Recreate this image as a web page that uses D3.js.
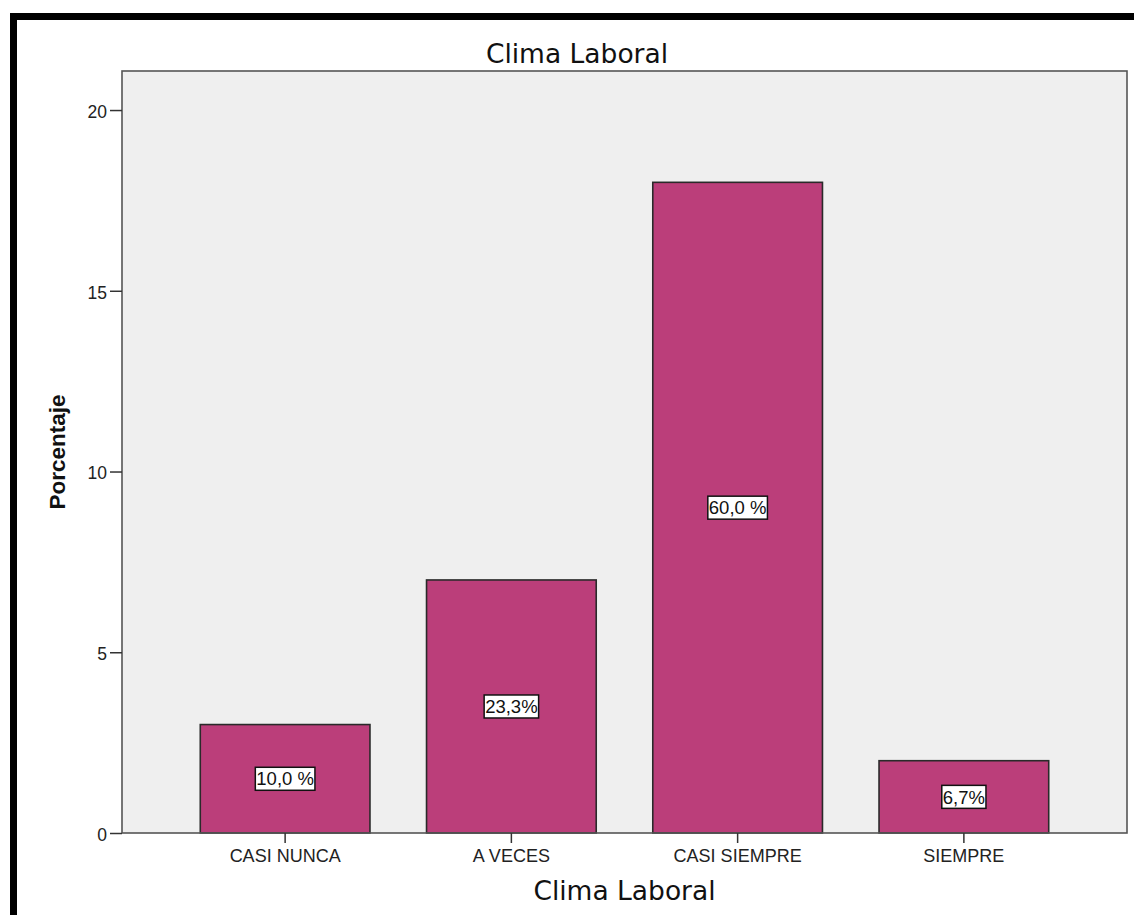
<!DOCTYPE html>
<html>
<head>
<meta charset="utf-8">
<script src="https://cdn.jsdelivr.net/npm/d3@7"></script>
<style>
  html, body { margin: 0; padding: 0; background: #fff; }
  svg { display: block; }
</style>
</head>
<body>
<svg id="chart" width="1134" height="915"></svg>
<script>
// Clima Laboral — frequency per category with percentage labels
const categories = ["CASI NUNCA", "A VECES", "CASI SIEMPRE", "SIEMPRE"];
const counts = [3, 7, 18, 2];
const percentLabels = ["10,0 %", "23,3%", "60,0 %", "6,7%"];
const yTicks = [0, 5, 10, 15, 20];
const chartTitle = "Clima Laboral";
const xTitle = "Clima Laboral";
const yTitle = "Porcentaje";

const svg = d3.select("#chart");
const W = 1134, H = 915;
const plot = { left: 122, right: 1127, top: 71, bottom: 833 };

// outer black frame (top and left edges)
svg.append("rect").attr("x", 10).attr("y", 13).attr("width", W - 10).attr("height", 7).attr("fill", "#000");
svg.append("rect").attr("x", 10).attr("y", 13).attr("width", 7).attr("height", H - 13).attr("fill", "#000");

const x = d3.scaleBand()
  .domain(categories)
  .range([plot.left + 50, plot.right - 50])
  .paddingInner(0.25)
  .paddingOuter(0.125);

const y = d3.scaleLinear()
  .domain([0, 21.08])
  .range([plot.bottom, plot.top]);

// plot background
svg.append("rect")
  .attr("x", plot.left).attr("y", plot.top)
  .attr("width", plot.right - plot.left).attr("height", plot.bottom - plot.top)
  .attr("fill", "#efefef");

// bars
svg.append("g").selectAll("rect")
  .data(categories)
  .join("rect")
  .attr("x", d => x(d))
  .attr("y", (d, i) => y(counts[i]))
  .attr("width", x.bandwidth())
  .attr("height", (d, i) => y(0) - y(counts[i]))
  .attr("fill", "#bb3e7a")
  .attr("stroke", "#2a2a2a")
  .attr("stroke-width", 1.6);

// plot frame
svg.append("rect")
  .attr("x", plot.left).attr("y", plot.top)
  .attr("width", plot.right - plot.left).attr("height", plot.bottom - plot.top)
  .attr("fill", "none")
  .attr("stroke", "#555")
  .attr("stroke-width", 1.6);

// y axis
const yAxis = svg.append("g")
  .attr("transform", `translate(${plot.left},0)`)
  .call(d3.axisLeft(y).tickValues(yTicks).tickSize(12).tickPadding(3).tickFormat(d3.format("d")));
yAxis.select(".domain").remove();
yAxis.selectAll("line").attr("stroke", "#333").attr("stroke-width", 1.5);
yAxis.selectAll("text")
  .attr("font-family", "'Liberation Sans', Arial, sans-serif")
  .attr("font-size", 17.5)
  .attr("fill", "#222")
  .attr("dy", "0.42em");

// x axis
const xAxis = svg.append("g")
  .attr("transform", `translate(0,${plot.bottom})`)
  .call(d3.axisBottom(x).tickSize(10).tickPadding(6));
xAxis.select(".domain").remove();
xAxis.selectAll("line").attr("stroke", "#333").attr("stroke-width", 1.5);
xAxis.selectAll("text")
  .attr("font-family", "'Liberation Sans', Arial, sans-serif")
  .attr("font-size", 18)
  .attr("fill", "#222");

// value labels inside bars
const labels = svg.append("g").selectAll("g")
  .data(categories)
  .join("g")
  .attr("transform", (d, i) => `translate(${x(d) + x.bandwidth() / 2},${y(counts[i] / 2)})`);

labels.append("text")
  .attr("text-anchor", "middle")
  .attr("dy", "0.36em")
  .attr("font-family", "'Liberation Sans', Arial, sans-serif")
  .attr("font-size", 18.5)
  .attr("fill", "#111")
  .text((d, i) => percentLabels[i]);

labels.each(function () {
  const g = d3.select(this);
  const bb = g.select("text").node().getBBox();
  g.insert("rect", "text")
    .attr("x", bb.x - 1).attr("y", -11.5)
    .attr("width", bb.width + 2).attr("height", 23)
    .attr("fill", "#fff")
    .attr("stroke", "#111")
    .attr("stroke-width", 1.5);
});

// titles
svg.append("text")
  .attr("x", 577).attr("y", 63)
  .attr("text-anchor", "middle")
  .attr("font-family", "'DejaVu Sans', sans-serif")
  .attr("font-size", 26.5)
  .attr("fill", "#111")
  .text(chartTitle);

svg.append("text")
  .attr("x", (plot.left + plot.right) / 2).attr("y", 900)
  .attr("text-anchor", "middle")
  .attr("font-family", "'DejaVu Sans', sans-serif")
  .attr("font-size", 26.5)
  .attr("fill", "#111")
  .text(xTitle);

svg.append("text")
  .attr("transform", `translate(65,${(plot.top + plot.bottom) / 2}) rotate(-90)`)
  .attr("text-anchor", "middle")
  .attr("font-family", "'Liberation Sans', Arial, sans-serif")
  .attr("font-weight", "bold")
  .attr("font-size", 22.5)
  .attr("fill", "#111")
  .text(yTitle);
</script>
</body>
</html>
